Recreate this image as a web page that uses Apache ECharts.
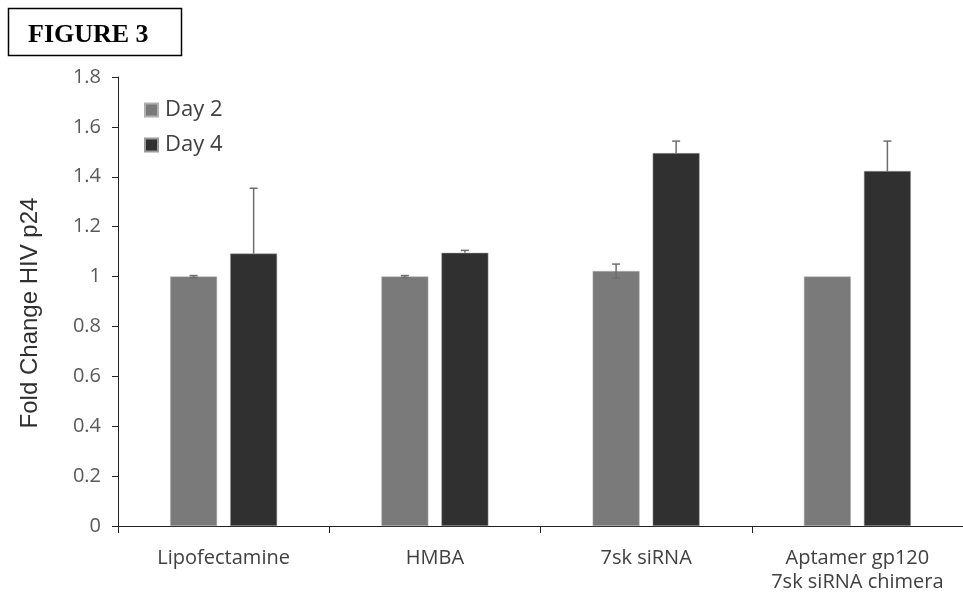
<!DOCTYPE html>
<html>
<head>
<meta charset="utf-8">
<script src="https://cdn.jsdelivr.net/npm/echarts@6/dist/echarts.min.js"></script>
<style>html,body{margin:0;padding:0;background:#fff}#c{width:963px;height:596px}</style>
</head>
<body>
<div id="c"></div>
<script>
const categories = ['Lipofectamine', 'HMBA', '7sk siRNA', 'Aptamer gp120\n7sk siRNA chimera'];
const day2 = [1.0, 1.0, 1.022, 1.0];
const day4 = [1.092, 1.095, 1.495, 1.423];
const day2ErrPlus = [0.004, 0.004, 0.028, 0];
const day2ErrMinus = [0.004, 0.004, 0.028, 0];
const day4ErrPlus = [0.262, 0.01, 0.048, 0.12];
const day4ErrMinus = [0, 0, 0, 0];
const yTicks = [0, 0.2, 0.4, 0.6, 0.8, 1, 1.2, 1.4, 1.6, 1.8];

const chart = echarts.init(document.getElementById('c'));
const barWidthPct = 0.222, gapPct = 0.28;

function errSeries(vals, plus, minus, seriesIdx) {
  return {
    type: 'custom',
    z: 5,
    silent: true,
    data: vals.map((v, i) => [i, v, plus[i], minus[i]]),
    renderItem: function (params, api) {
      const i = api.value(0), v = api.value(1), p = api.value(2), m = api.value(3);
      if (p === 0 && m === 0) return;
      const base = api.coord([i, v]);
      const bandW = api.size([1, 0])[0];
      const bw = bandW * barWidthPct;
      const gap = bw * gapPct;
      const off = (seriesIdx === 0 ? -1 : 1) * (bw / 2 + gap / 2);
      const x = base[0] + off;
      const yTop = api.coord([i, v + p])[1];
      const yBot = api.coord([i, v - m])[1];
      const cap = 4;
      const st = { stroke: '#6e6e6e', lineWidth: 1.5 };
      return {
        type: 'group',
        children: [
          { type: 'line', shape: { x1: x, y1: yTop, x2: x, y2: yBot }, style: st },
          { type: 'line', shape: { x1: x - cap, y1: yTop, x2: x + cap, y2: yTop }, style: st },
          { type: 'line', shape: { x1: x - cap, y1: yBot, x2: x + cap, y2: yBot }, style: m > 0 ? st : { stroke: 'transparent' } }
        ]
      };
    }
  };
}

chart.setOption({
  animation: false,
  backgroundColor: '#fff',
  graphic: [
    { type: 'rect', shape: { x: 8.5, y: 8.5, width: 173, height: 47 }, style: { fill: '#fff', stroke: '#000', lineWidth: 1.5 } },
    { type: 'text', x: 28, y: 35, style: { text: 'FIGURE 3', font: 'bold 26px "Liberation Serif", "Times New Roman", serif', fill: '#000', verticalAlign: 'middle' } },
    { type: 'text', x: 30, y: 313, rotation: Math.PI / 2, style: { text: 'Fold Change HIV p24', font: '24px "Liberation Sans", Arial, sans-serif', fill: '#303030', align: 'center', verticalAlign: 'middle' } }
  ],
  legend: {
    orient: 'vertical',
    left: 139,
    top: 94,
    itemWidth: 13,
    itemHeight: 13,
    itemGap: 13,
    icon: 'rect',
    textStyle: { fontSize: 22, color: '#404040', fontFamily: '"Open Sans", sans-serif', padding: [0, 0, 0, 2] },
    data: ['Day 2', 'Day 4']
  },
  grid: { left: 118, top: 77, right: 0, bottom: 70, containLabel: false },
  xAxis: {
    type: 'category',
    data: categories,
    axisLine: { lineStyle: { color: '#222', width: 1 } },
    axisTick: { show: true, interval: 0, length: 7, lineStyle: { color: '#222' } },
    axisLabel: { interval: 0, hideOverlap: false, color: '#404040', fontSize: 20, fontFamily: '"Open Sans", sans-serif', margin: 20, lineHeight: 24 },
    splitLine: { show: false }
  },
  yAxis: {
    type: 'value',
    min: 0,
    max: 1.8,
    interval: 0.2,
    axisLine: { show: true, lineStyle: { color: '#222', width: 1 } },
    axisTick: { show: true, length: 6, lineStyle: { color: '#222' } },
    axisLabel: {
      color: '#595959', fontSize: 20, fontFamily: '"Open Sans", sans-serif', margin: 17,
      formatter: v => { const t = yTicks.find(x => Math.abs(x - v) < 1e-6); return t === undefined ? '' : String(t); }
    },
    splitLine: { show: false }
  },
  series: [
    { name: 'Day 2', type: 'bar', data: day2, barWidth: (barWidthPct * 100) + '%', barGap: (gapPct * 100) + '%',
      itemStyle: { color: '#7a7a7a', borderColor: '#b0b0b0', borderWidth: 0.5 } },
    { name: 'Day 4', type: 'bar', data: day4, barWidth: (barWidthPct * 100) + '%',
      itemStyle: { color: '#303030', borderColor: '#9a9a9a', borderWidth: 0.5 } },
    errSeries(day2, day2ErrPlus, day2ErrMinus, 0),
    errSeries(day4, day4ErrPlus, day4ErrMinus, 1)
  ]
});
</script>
</body>
</html>
